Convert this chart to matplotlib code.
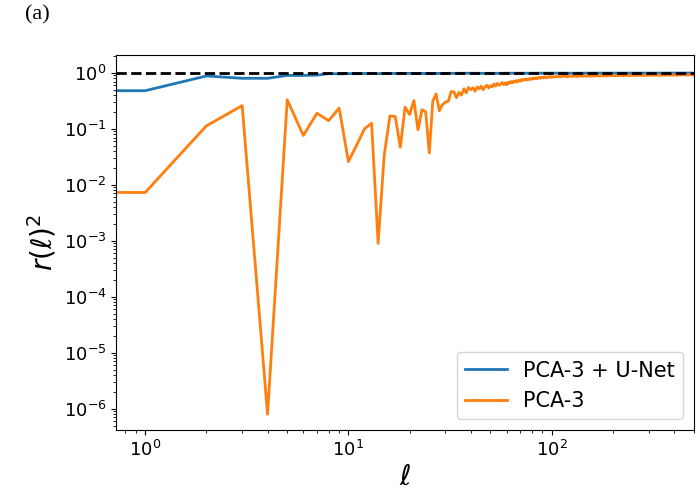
import numpy as np
import matplotlib
matplotlib.use("Agg")
import matplotlib.pyplot as plt

# multipoles: every l up to 100, then every 2nd up to 200, then every 5th
ell = np.concatenate([np.arange(0, 101), np.arange(102, 201, 2), np.arange(205, 501, 5)])

# cross-correlation coefficient squared, PCA-3 only
r2_pca = [
    0.0073, 0.0073, 0.113, 0.26, 8.0e-7, 0.33, 0.076, 0.19, 0.14, 0.235,
    0.026, 0.052, 0.10, 0.126, 9.0e-4, 0.034, 0.17, 0.166, 0.047, 0.244,
    0.18, 0.32, 0.096, 0.22, 0.20, 0.037, 0.31, 0.42, 0.21, 0.27,
    0.30, 0.31, 0.46, 0.46, 0.36, 0.45, 0.40, 0.52, 0.44, 0.55,
    0.50, 0.54, 0.47, 0.56, 0.52, 0.58, 0.50, 0.56, 0.60, 0.54,
    0.59, 0.56, 0.63, 0.58, 0.65, 0.60, 0.63, 0.67, 0.62, 0.66,
    0.61, 0.68, 0.65, 0.70, 0.66, 0.71, 0.68, 0.73, 0.69, 0.74,
    0.71, 0.76, 0.73, 0.77, 0.75, 0.78, 0.74, 0.77, 0.79, 0.76,
    0.79, 0.81, 0.78, 0.80, 0.82, 0.79, 0.81, 0.83, 0.80, 0.82,
    0.84, 0.81, 0.83, 0.85, 0.82, 0.84, 0.83, 0.85, 0.86, 0.83,
    0.85,
    # l = 102 .. 200, step 2
    0.84, 0.86, 0.85, 0.87, 0.85, 0.86, 0.88, 0.86, 0.87, 0.85,
    0.87, 0.88, 0.86, 0.87, 0.88, 0.87, 0.86, 0.88, 0.87, 0.89,
    0.87, 0.88, 0.89, 0.87, 0.88, 0.89, 0.88, 0.87, 0.89, 0.88,
    0.89, 0.88, 0.90, 0.88, 0.89, 0.88, 0.90, 0.89, 0.88, 0.89,
    0.90, 0.89, 0.88, 0.90, 0.89, 0.90, 0.89, 0.90, 0.89, 0.90,
    # l = 205 .. 500, step 5
    0.89, 0.90, 0.895, 0.90, 0.89, 0.90, 0.905, 0.895, 0.90, 0.905,
    0.90, 0.895, 0.905, 0.90, 0.91, 0.90, 0.905, 0.91, 0.90, 0.905,
    0.91, 0.905, 0.90, 0.91, 0.905, 0.91, 0.915, 0.905, 0.91, 0.915,
    0.91, 0.905, 0.915, 0.91, 0.915, 0.91, 0.92, 0.91, 0.915, 0.92,
    0.915, 0.91, 0.92, 0.915, 0.92, 0.915, 0.92, 0.925, 0.915, 0.92,
    0.925, 0.92, 0.915, 0.92, 0.925, 0.92, 0.925, 0.92, 0.925, 0.92,
]

# PCA-3 followed by the U-Net
ell_unet = [0, 1, 2, 3, 4, 5, 6, 7, 8, 9, 10, 11, 12, 14, 16, 20, 25, 30, 40,
            50, 60, 80, 100, 130, 160, 200, 250, 300, 400, 500]
r2_unet = [0.48, 0.48, 0.88, 0.80, 0.80, 0.90, 0.90, 0.91, 0.97, 0.96, 0.97,
           0.965, 0.975, 0.97, 0.975, 0.98, 0.975, 0.98, 0.985, 0.98, 0.985,
           0.985, 0.99, 0.985, 0.99, 0.99, 0.99, 0.99, 0.992, 0.992]

fig = plt.figure(figsize=(7, 4.94), dpi=100)
ax = fig.add_axes([0.166, 0.130, 0.825, 0.759])

ax.plot(ell_unet, r2_unet, color="#1f77b4", lw=2, label="PCA-3 + U-Net")
ax.plot(ell, r2_pca, color="#ff7f0e", lw=2, label="PCA-3")
ax.axhline(1.0, color="black", ls="--", lw=2)

ax.set_xscale("log")
ax.set_yscale("log")
ax.set_xlim(0.72, 500)
ax.set_ylim(4.2e-7, 2.1)

ax.tick_params(labelsize=13)
ax.set_xlabel(r"$\ell$", fontsize=20, labelpad=2)
ax.set_ylabel(r"$r(\ell)^2$", fontsize=20)

ax.legend(loc="lower right", fontsize=15)

fig.text(0.036, 0.99, "(a)", family="Liberation Serif", fontsize=16, va="top")

fig.savefig("out.png", dpi=100)
